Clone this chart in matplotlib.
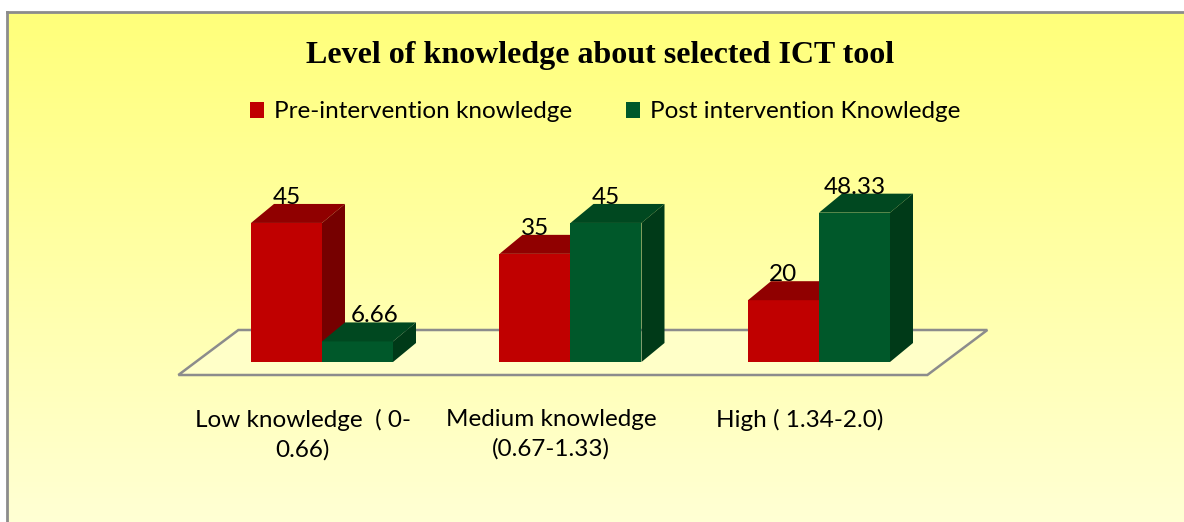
import numpy as np
import matplotlib.pyplot as plt
from matplotlib.patches import Polygon, Patch

# data
categories = ["Low knowledge  ( 0-\n0.66)", "Medium knowledge\n(0.67-1.33)", "High ( 1.34-2.0)"]
series = ["Pre-intervention knowledge", "Post intervention Knowledge"]
pre = [45, 35, 20]
post = [6.66, 45, 48.33]
labels_pre = ["45", "35", "20"]
labels_post = ["6.66", "45", "48.33"]

# colours: front, top, side
red = ("#C00000", "#900000", "#760000")
green = ("#00582A", "#004820", "#003A18")

W, H = 1184, 522
fig = plt.figure(figsize=(W / 100, H / 100), dpi=100)
fig.patch.set_facecolor("white")

# background panel with vertical gradient
bg = fig.add_axes([7 / W, 0, 1 - 7 / W, (H - 12) / H])
grad = np.linspace(0, 1, 256)[:, None]
top_c = np.array([255, 255, 122]) / 255
bot_c = np.array([255, 255, 212]) / 255
img = top_c[None, None, :] * (1 - grad[..., None]) + bot_c[None, None, :] * grad[..., None]
img = np.repeat(img, 2, axis=1)
bg.imshow(img, aspect="auto", extent=[0, 1, 0, 1], zorder=0)
bg.set_xlim(0, 1)
bg.set_ylim(0, 1)
bg.set_xticks([])
bg.set_yticks([])
for s in ["right", "bottom"]:
    bg.spines[s].set_visible(False)
for s in ["left", "top"]:
    bg.spines[s].set_color("#8c8c8c")
    bg.spines[s].set_linewidth(2)

# main axes covers the figure; category units on x, value units on y
ax = fig.add_axes([0, 0, 1, 1])
ax.set_facecolor("none")
px_x = 248.5  # pixels per category
px_y = 3.09   # pixels per value unit
x0_px, y0_px = 322, H - 362
ax.set_xlim(-x0_px / px_x, (W - x0_px) / px_x)
ax.set_ylim(-y0_px / px_y, (H - y0_px) / px_y)
ax.axis("off")

bw = 71 / px_x          # bar width
ddx, ddy = 23 / px_x, 19 / px_y   # bar depth offset

# floor
fx0, fx1 = -0.578, 2.436
fy = -13 / px_y
fdx, fdy = 60 / px_x, 45 / px_y
floor = Polygon([(fx0, fy), (fx1, fy), (fx1 + fdx, fy + fdy), (fx0 + fdx, fy + fdy)],
                closed=True, facecolor="#FFFFC8", edgecolor="#8c8c8c", lw=1.8, zorder=1)
ax.add_patch(floor)


def bar3d(x, h, cols, z):
    front, topc, side = cols
    ax.add_patch(Polygon([(x, 0), (x + bw, 0), (x + bw, h), (x, h)],
                         facecolor=front, edgecolor="none", zorder=z))
    ax.add_patch(Polygon([(x, h), (x + bw, h), (x + bw + ddx, h + ddy), (x + ddx, h + ddy)],
                         facecolor=topc, edgecolor="none", zorder=z))
    ax.add_patch(Polygon([(x + bw, 0), (x + bw + ddx, ddy), (x + bw + ddx, h + ddy), (x + bw, h)],
                         facecolor=side, edgecolor="none", zorder=z))


font = "Lato"
fs = 17.5
for i in range(len(categories)):
    bar3d(i - bw, pre[i], red, 3 + 2 * i)
    bar3d(i, post[i], green, 4 + 2 * i)
    ax.text(i - bw / 2, pre[i] + ddy, labels_pre[i], ha="center", va="baseline",
            fontsize=fs, family=font, zorder=10)
    off = 0.07 if post[i] < 10 else 0
    ax.text(i + bw / 2 + off, post[i] + ddy, labels_post[i], ha="center", va="baseline",
            fontsize=fs, family=font, zorder=10)
    ax.text(i - 0.077, -(409 - 362) / px_y, categories[i], ha="center", va="top",
            fontsize=fs, family=font, linespacing=1.45, zorder=10)

fig.text(600 / W, 1 - 55 / H, "Level of knowledge about selected ICT tool",
         ha="center", va="center", fontsize=23, fontweight="bold", family="Liberation Serif")

handles = [Patch(facecolor=red[0]), Patch(facecolor=green[0])]
fig.legend(handles, series, loc="center", bbox_to_anchor=(605 / W, 1 - 112 / H), ncol=2,
           frameon=False, prop={"family": font, "size": fs}, handlelength=0.6,
           handleheight=0.6, handletextpad=0.4, columnspacing=2.2)

fig.savefig("out.png", dpi=100)
